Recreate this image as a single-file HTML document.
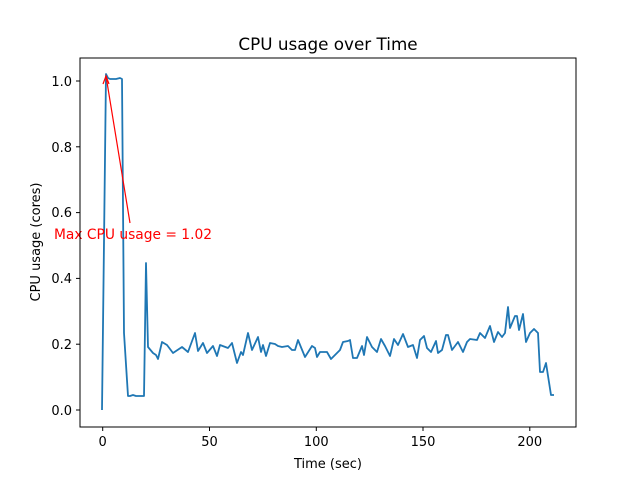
<!DOCTYPE html>
<html><head><style>
body{margin:0;background:#fff;}
text{font-family:"DejaVu Sans","Liberation Sans",sans-serif;}
</style></head><body>
<svg width="640" height="480" xmlns="http://www.w3.org/2000/svg">
<rect width="640" height="480" fill="#fff"/>
<text x="328" y="50" font-size="16.8" text-anchor="middle">CPU usage over Time</text>
<polyline fill="none" stroke="#1f77b4" stroke-width="1.8" stroke-linejoin="round" points="102,410 106,74 108,78 110,79 116,79 120,78 122,79 124,333 128,396 130,396 133,395 136,396 140,396 144,396 146,263 148,347 153,353 156,355 158,359 162,342 167,345 173,353 182,347 188,352 195,333 198,351 203,343 207,353 213,346 217,356 220,345 228,348 232,343 237,363 241,352 243,355 248,333 252,350 258,337 261,352 263,345 266,356 270,343 275,344 278,346 282,347 288,346 292,350 295,350 298,340 305,357 312,346 315,348 317,357 320,352 327,352 331,359 335,355 340,350 343,342 348,341 350,340 353,358 357,358 362,346 364,355 367,337 372,347 377,352 381,339 385,346 390,356 394,339 398,345 403,334 408,347 413,345 417,358 420,340 424,336 427,348 431,352 436,341 438,353 442,350 446,335 448,335 452,350 458,342 463,352 467,342 470,339 477,340 480,333 485,338 490,326 494,342 498,332 502,337 505,333 508,307 510,328 515,316 517,316 519,330 523,314 526,342 530,333 534,329 538,333 540,372 543,372 546,363 551,395 554,395"/>
<line x1="130" y1="223" x2="106" y2="76" stroke="red" stroke-width="1.2"/>
<polyline points="103,84 106,76 109,84" fill="none" stroke="red" stroke-width="1.2"/>
<text x="54" y="239" font-size="13.8" fill="red">Max CPU usage = 1.02</text>
<rect x="80" y="58" width="496" height="369" fill="none" stroke="#000" stroke-width="1"/>
<g stroke="#000">
<line x1="102.7" y1="427" x2="102.7" y2="431"/><line x1="209.5" y1="427" x2="209.5" y2="431"/><line x1="316.3" y1="427" x2="316.3" y2="431"/><line x1="423" y1="427" x2="423" y2="431"/><line x1="529.8" y1="427" x2="529.8" y2="431"/>
<line x1="76" y1="410" x2="80" y2="410"/><line x1="76" y1="344.2" x2="80" y2="344.2"/><line x1="76" y1="278.4" x2="80" y2="278.4"/><line x1="76" y1="212.6" x2="80" y2="212.6"/><line x1="76" y1="146.8" x2="80" y2="146.8"/><line x1="76" y1="81" x2="80" y2="81"/>
</g>
<g font-size="13" text-anchor="middle">
<text x="102.7" y="446">0</text><text x="209.5" y="446">50</text><text x="316.3" y="446">100</text><text x="423" y="446">150</text><text x="529.8" y="446">200</text>
<text x="328" y="468">Time (sec)</text>
</g>
<g font-size="13" text-anchor="end">
<text x="72" y="415">0.0</text><text x="72" y="349">0.2</text><text x="72" y="283">0.4</text><text x="72" y="217">0.6</text><text x="72" y="152">0.8</text><text x="72" y="86">1.0</text>
</g>
<text transform="translate(40,242) rotate(-90)" font-size="13" text-anchor="middle">CPU usage (cores)</text>
</svg>
</body></html>
